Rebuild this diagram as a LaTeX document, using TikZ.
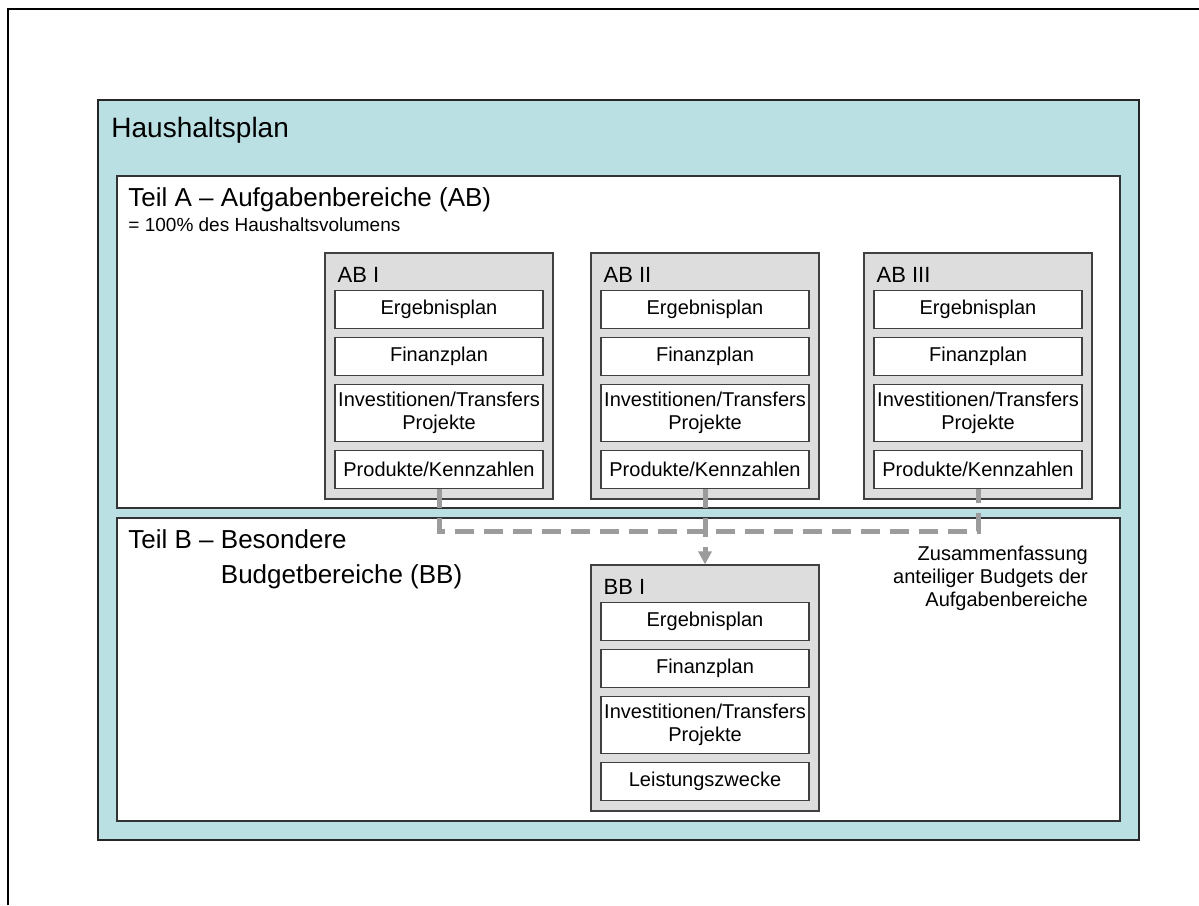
\documentclass[tikz,border=0pt]{standalone}
\usepackage{fontspec}
\setmainfont{Liberation Sans}
\usetikzlibrary{arrows.meta,calc}

\definecolor{planblue}{HTML}{BBE0E3}
\definecolor{boxgray}{HTML}{DDDDDD}
\definecolor{flowgray}{HTML}{9C9C9C}
\newcommand{\pxfont}[2]{\fontsize{#1}{#2}\selectfont}

\begin{document}
\begin{tikzpicture}[
  x=1pt, y=-1pt,
  frame/.style={line width=2.5pt},
  plan/.style={draw=black!85, fill=planblue, line width=1.5pt, inner sep=0pt},
  teil/.style={draw=black!80, fill=white, line width=1.5pt, inner sep=0pt},
  bereich/.style={draw=black!75, fill=boxgray, line width=1.2pt,
    minimum width=228pt, minimum height=246pt, inner sep=0pt},
  feld/.style={draw=black!75, fill=white, line width=1.2pt,
    minimum width=208pt, minimum height=38pt, inner sep=0pt,
    align=center, font=\pxfont{20}{23}},
  hoch/.style={minimum height=57pt},
  titel/.style={anchor=north west, inner sep=0pt},
  flow/.style={draw=flowgray, line width=5pt, dash pattern=on 19pt off 10pt}
]
\useasboundingbox (0,0) rectangle (1199,905);

% slide frame
\draw[frame] (8,905) -- (8,9) -- (1199,9);

%================================================
% HAUSHALTSPLAN:  Teil A and Teil B
%================================================
\node[plan, minimum width=1041pt, minimum height=740pt] (plan) at (618.5,470) {};
\node[titel, font=\pxfont{28}{32}] (plan-titel) at ($(plan.north west)+(14,18)$) {Haushaltsplan};

\node[teil, minimum width=1003pt, minimum height=332pt] (teilA) at (618.5,342) {};
\node[titel, font=\pxfont{26}{32}] (teilA-titel) at ($(teilA.north west)+(12,12)$)
  {Teil A -- Aufgabenbereiche (AB)};
\node[titel, font=\pxfont{19}{22}] (teilA-sub) at ($(teilA.north west)+(12,42)$)
  {= 100\% des Haushaltsvolumens};

\node[teil, minimum width=1003pt, minimum height=303pt] (teilB) at (618.5,669.5) {};
\node[titel, font=\pxfont{26}{35}, align=left] (teilB-titel) at ($(teilB.north west)+(12,12)$)
  {Teil B -- Besondere\\\phantom{Teil B -- }Budgetbereiche (BB)};

%================================================
% AUFGABENBEREICHE
%================================================
\foreach \i/\x/\nr in {1/439/I, 2/705/II, 3/978/III}{
  \node[bereich] (ab\i) at (\x,376) {};
  \node[anchor=base west, inner sep=0pt, font=\pxfont{22}{26}] (ab\i-titel)
    at ($(ab\i.north west)+(13,30)$) {AB \nr};
  \node[feld] (ab\i-erg) at ($(ab\i.north)+(0,57)$) {Ergebnisplan};
  \node[feld] (ab\i-fin) at ($(ab\i.north)+(0,104)$) {Finanzplan};
  \node[feld, hoch] (ab\i-inv) at ($(ab\i.north)+(0,160.5)$) {Investitionen/Transfers\\Projekte};
  \node[feld] (ab\i-prod) at ($(ab\i.north)+(0,217)$) {Produkte/Kennzahlen};
}

%================================================
% BUDGETBEREICH
%================================================
\node[bereich] (bb1) at (705,688) {};
\node[anchor=base west, inner sep=0pt, font=\pxfont{22}{26}] (bb1-titel)
  at ($(bb1.north west)+(13,30)$) {BB I};
\node[feld] (bb1-erg) at ($(bb1.north)+(0,57)$) {Ergebnisplan};
\node[feld] (bb1-fin) at ($(bb1.north)+(0,104)$) {Finanzplan};
\node[feld, hoch] (bb1-inv) at ($(bb1.north)+(0,160.5)$) {Investitionen/Transfers\\Projekte};
\node[feld] (bb1-leist) at ($(bb1.north)+(0,217)$) {Leistungszwecke};

% note on the right
\node[anchor=north east, align=right, inner sep=0pt, font=\pxfont{20}{23}] (summe)
  at (1088,546) {Zusammenfassung\\anteiliger Budgets der\\Aufgabenbereiche};

%================================================
% CONNECTORS
%================================================
\coordinate (sammel) at (705,531);
\draw[flow] (ab1-prod.south) -- (ab1-prod.south |- sammel)
  -- (ab3-prod.south |- sammel) -- (ab3-prod.south);
\draw[flow, -{Triangle[length=13pt, width=13pt]}] (ab2-prod.south) -- (bb1.north);

\end{tikzpicture}
\end{document}
